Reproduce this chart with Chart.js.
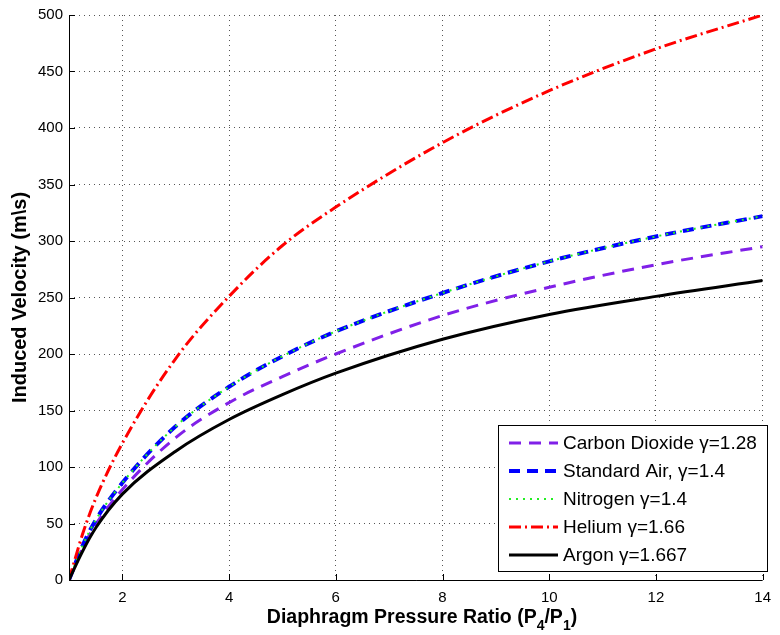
<!DOCTYPE html>
<html>
<head>
<meta charset="utf-8">
<script src="https://cdn.jsdelivr.net/npm/chart.js@4.4.1/dist/chart.umd.min.js"></script>
<style>
  html, body { margin: 0; padding: 0; background: #fff; }
  canvas { display: block; }
</style>
</head>
<body>
<canvas id="velocityChart" width="780" height="635"></canvas>
<script>
// pressure ratio samples (P4/P1)
const pressureRatio = [1, 1.25, 1.5, 2, 3, 4, 5, 6, 8, 10, 12, 14];

// induced velocity for each gas
const carbonDioxide = [0, 28, 49, 80, 126, 157, 180, 200, 234, 259, 279, 295];
const standardAir   = [0, 30, 53, 86, 136, 171, 198, 220, 254, 282, 304, 322];
const nitrogen      = [0, 30, 53, 86, 136, 171, 198, 220, 254, 282, 304, 322];
const helium        = [0, 40, 72, 121, 196, 251, 296, 330, 387, 433, 470, 500];
const argon         = [0, 25, 46, 76, 114, 142, 164, 183, 213, 235, 251, 265];

const seriesLabels = ['Carbon Dioxide \u03b3=1.28', 'Standard Air, \u03b3=1.4', 'Nitrogen \u03b3=1.4', 'Helium \u03b3=1.66', 'Argon \u03b3=1.667'];

const xTicks = [2, 4, 6, 8, 10, 12, 14];
const yTicks = [0, 50, 100, 150, 200, 250, 300, 350, 400, 450, 500];

const FONT = '"Liberation Sans", Arial, Helvetica, sans-serif';

function toPoints(values) {
    return values.map((v, i) => ({ x: pressureRatio[i], y: v }));
}

// axis lines, inward tick marks, x title with subscripts and the boxed legend
const matlabAxes = {
    id: 'matlabAxes',
    afterDraw(chart) {
        const ctx = chart.ctx;
        const area = chart.chartArea;
        const xs = chart.scales.x;
        const ys = chart.scales.y;

        ctx.save();
        ctx.strokeStyle = '#000';
        ctx.lineWidth = 1;
        ctx.setLineDash([]);
        ctx.beginPath();
        ctx.moveTo(area.left + 0.5, area.top);
        ctx.lineTo(area.left + 0.5, area.bottom + 0.5);
        ctx.lineTo(area.right, area.bottom + 0.5);
        ctx.stroke();

        ctx.beginPath();
        xTicks.forEach(v => {
            const px = Math.round(xs.getPixelForValue(v)) + 0.5;
            ctx.moveTo(px, area.bottom);
            ctx.lineTo(px, area.bottom - 6);
        });
        yTicks.forEach(v => {
            const py = Math.round(ys.getPixelForValue(v)) + 0.5;
            ctx.moveTo(area.left, py);
            ctx.lineTo(area.left + 6, py);
        });
        ctx.stroke();

        // x axis title: Diaphragm Pressure Ratio (P4/P1)
        const parts = [
            ['Diaphragm Pressure Ratio (P', false],
            ['4', true],
            ['/P', false],
            ['1', true],
            [')', false]
        ];
        const bigFont = 'bold 19.5px ' + FONT;
        const subFont = 'bold 14px ' + FONT;
        let total = 0;
        parts.forEach(p => {
            ctx.font = p[1] ? subFont : bigFont;
            total += ctx.measureText(p[0]).width;
        });
        let tx = 422 - total / 2;
        ctx.fillStyle = '#000';
        ctx.textBaseline = 'alphabetic';
        ctx.textAlign = 'left';
        parts.forEach(p => {
            ctx.font = p[1] ? subFont : bigFont;
            ctx.fillText(p[0], tx, p[1] ? 630 : 623);
            tx += ctx.measureText(p[0]).width;
        });

        // legend box
        const box = { left: 498, top: 425, right: 767, bottom: 571 };
        ctx.fillStyle = '#fff';
        ctx.fillRect(box.left, box.top, box.right - box.left, box.bottom - box.top);
        ctx.strokeStyle = '#000';
        ctx.lineWidth = 1;
        ctx.strokeRect(box.left + 0.5, box.top + 0.5, box.right - box.left, box.bottom - box.top);

        const rowY = [443, 471, 499, 527, 555];
        ctx.font = '19px ' + FONT;
        ctx.textBaseline = 'middle';
        chart.data.datasets.forEach((ds, i) => {
            ctx.save();
            ctx.strokeStyle = ds.borderColor;
            ctx.lineWidth = ds.borderWidth;
            ctx.setLineDash(ds.borderDash || []);
            ctx.beginPath();
            ctx.moveTo(509, rowY[i]);
            ctx.lineTo(558, rowY[i]);
            ctx.stroke();
            ctx.restore();
            ctx.fillStyle = '#000';
            ctx.fillText(ds.label, 563, rowY[i] + 1);
        });
        ctx.restore();
    }
};

const ctx = document.getElementById('velocityChart').getContext('2d');
new Chart(ctx, {
    type: 'line',
    data: {
        datasets: [
            { label: seriesLabels[0], data: toPoints(carbonDioxide), borderColor: 'rgb(128,32,232)', borderWidth: 3, borderDash: [12, 8], order: 4 },
            { label: seriesLabels[1], data: toPoints(standardAir), borderColor: '#0000ff', borderWidth: 4, borderDash: [11, 7], order: 3 },
            { label: seriesLabels[2], data: toPoints(nitrogen), borderColor: '#22ee22', borderWidth: 2, borderDash: [2, 5], order: 2 },
            { label: seriesLabels[3], data: toPoints(helium), borderColor: '#ff0000', borderWidth: 3, borderDash: [12, 4, 2, 4], order: 1 },
            { label: seriesLabels[4], data: toPoints(argon), borderColor: '#000000', borderWidth: 3, order: 0 }
        ]
    },
    options: {
        responsive: false,
        animation: false,
        layout: { padding: { top: 13, right: 7, left: 0, bottom: 0 } },
        elements: {
            point: { radius: 0 },
            line: { cubicInterpolationMode: 'monotone', fill: false }
        },
        plugins: {
            legend: { display: false },
            tooltip: { enabled: false }
        },
        scales: {
            x: {
                type: 'linear',
                min: 1,
                max: 14,
                afterBuildTicks: s => { s.ticks = xTicks.map(v => ({ value: v })); },
                afterFit: s => { s.height = 55; },
                grid: { color: '#555', lineWidth: 1, drawTicks: false },
                border: { display: false, dash: [1, 4] },
                ticks: { color: '#000', padding: 9, maxRotation: 0, font: { family: FONT, size: 15 } }
            },
            y: {
                type: 'linear',
                min: 0,
                max: 500,
                afterBuildTicks: s => { s.ticks = yTicks.map(v => ({ value: v })); },
                afterFit: s => { s.width = 69; },
                grid: { color: '#555', lineWidth: 1, drawTicks: false },
                border: { display: false, dash: [1, 4] },
                ticks: { color: '#000', padding: 6, font: { family: FONT, size: 15 } },
                title: {
                    display: true,
                    text: 'Induced Velocity (m\\s)',
                    color: '#000',
                    padding: { top: 8, bottom: 0 },
                    font: { family: FONT, size: 20, weight: 'bold' }
                }
            }
        }
    },
    plugins: [matlabAxes]
});
</script>
</body>
</html>
